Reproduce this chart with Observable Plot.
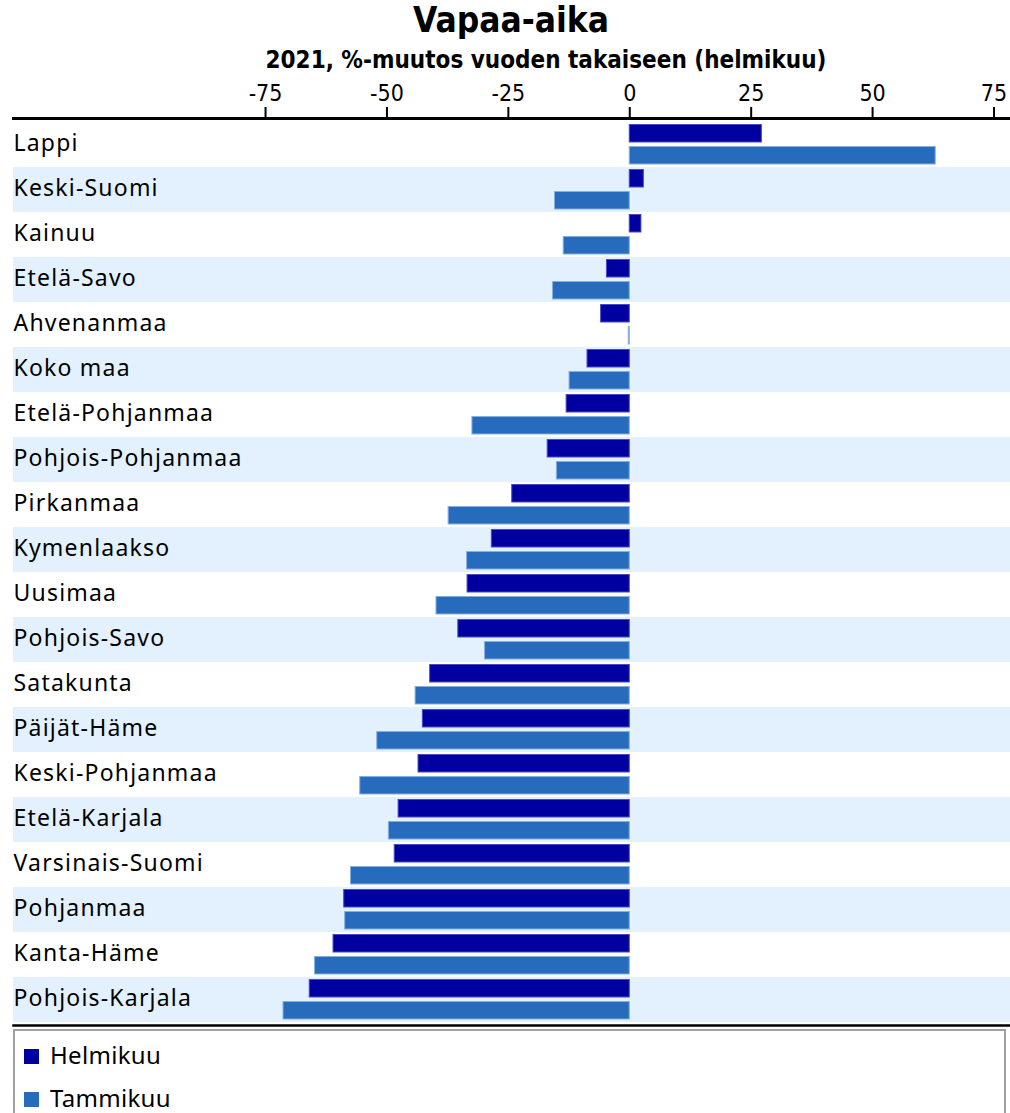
<!DOCTYPE html>
<html>
<head>
<meta charset="utf-8">
<script src="https://cdn.jsdelivr.net/npm/d3@7"></script>
<script src="https://cdn.jsdelivr.net/npm/@observablehq/plot@0.6"></script>
<style>
  html, body { margin: 0; padding: 0; background: #fff; }
  #wrap { width: 1010px; position: relative; }
  .title { height: 44px; line-height: 40px; text-align: center; font-family: "DejaVu Sans Condensed", "DejaVu Sans", sans-serif; font-stretch: condensed; font-weight: bold; font-size: 35px; color: #000; padding-left: 12px; overflow: visible; }
  .subtitle { height: 28px; line-height: 28px; padding-top: 2px; text-align: center; font-family: "DejaVu Sans Condensed", "DejaVu Sans", sans-serif; font-stretch: condensed; font-weight: bold; font-size: 24px; color: #000; padding-left: 82px; }
  #chart svg { display: block; }
  .legend { margin-top: 2px; margin-left: 13px; width: 993px; height: 120px; border: 2px solid #a0a0a0; box-sizing: border-box; padding-top: 2px; font-family: "Noto Sans", sans-serif; font-size: 24px; letter-spacing: 0.3px; color: #000; }
  .item { height: 43px; line-height: 43px; padding-left: 9px; white-space: nowrap; }
  .sw { display: inline-block; width: 15px; height: 15px; vertical-align: 0px; margin-right: 11px; }
</style>
</head>
<body>
<div id="wrap">
  <div class="title">Vapaa-aika</div>
  <div class="subtitle">2021, %-muutos vuoden takaiseen (helmikuu)</div>
  <div id="chart"></div>
  <div class="legend" id="legend"></div>
</div>
<script>
// ---- data ----
const regions = ["Lappi", "Keski-Suomi", "Kainuu", "Etelä-Savo", "Ahvenanmaa", "Koko maa",
  "Etelä-Pohjanmaa", "Pohjois-Pohjanmaa", "Pirkanmaa", "Kymenlaakso", "Uusimaa", "Pohjois-Savo",
  "Satakunta", "Päijät-Häme", "Keski-Pohjanmaa", "Etelä-Karjala", "Varsinais-Suomi", "Pohjanmaa",
  "Kanta-Häme", "Pohjois-Karjala"];
const helmikuu = [27.2, 2.9, 2.4, -4.7, -5.9, -8.7, -13.0, -16.9, -24.2, -28.4, -33.4, -35.3,
  -41.1, -42.6, -43.5, -47.6, -48.4, -58.8, -61.0, -65.9];
const tammikuu = [63.0, -15.4, -13.6, -15.8, -0.2, -12.4, -32.4, -15.0, -37.3, -33.5, -39.8, -29.8,
  -44.1, -52.0, -55.5, -49.6, -57.4, -58.6, -64.8, -71.3];
const seriesNames = ["Helmikuu", "Tammikuu"];
const tickValues = [-75, -50, -25, 0, 25, 50, 75];

// ---- styles ----
const colors = {Helmikuu: "#0000a0", Tammikuu: "#276bbd"};
const strokes = {Helmikuu: "#4a4ac4", Tammikuu: "#86afe0"};
const bandFill = "#e3f0fd";
const xDomain = [-126.9, 78.4];

const rowsH = regions.map((r, i) => ({region: r, value: helmikuu[i]}));
const rowsT = regions.map((r, i) => ({region: r, value: tammikuu[i]}));
const shaded = regions.filter((r, i) => i % 2 === 1);

const condensed = "'DejaVu Sans Condensed', 'DejaVu Sans', sans-serif";

const chart = Plot.plot({
  width: 1010,
  height: 953,
  marginTop: 44,
  marginBottom: 2,
  marginLeft: 13,
  marginRight: 0,
  style: {background: "transparent", fontFamily: "'Noto Sans', sans-serif", color: "#000"},
  x: {domain: xDomain, axis: null, label: null},
  y: {domain: regions, axis: null, padding: 0, label: null},
  marks: [
    Plot.barX(shaded, {x1: () => xDomain[0], x2: () => xDomain[1], y: d => d, fill: bandFill, inset: 0}),
    Plot.barX(rowsH, {x: "value", y: "region", fill: colors.Helmikuu, stroke: strokes.Helmikuu, strokeWidth: 1,
      insetTop: 2.5, insetBottom: 25, insetLeft: 0, insetRight: 0}),
    Plot.barX(rowsT, {x: "value", y: "region", fill: colors.Tammikuu, stroke: strokes.Tammikuu, strokeWidth: 1,
      insetTop: 24.5, insetBottom: 3, insetLeft: 0, insetRight: 0}),
    Plot.text(regions, {y: d => d, text: d => d, frameAnchor: "left", textAnchor: "start", dx: 0, dy: -1,
      fontSize: 23, fill: "#000"}),
    Plot.axisX({anchor: "top", ticks: tickValues, tickSize: 12, tickPadding: 6, strokeWidth: 2, label: null,
      tickFormat: d => String(d).replace("−", "-"), fontSize: 23, fontFamily: condensed, fill: "#000", stroke: "#000"}),
    Plot.frame({anchor: "top", stroke: "#000", strokeWidth: 3}),
    Plot.frame({anchor: "bottom", stroke: "#000", strokeWidth: 2.5})
  ]
});
// widen region labels slightly to match the reference typeface spacing
chart.querySelectorAll("text").forEach(t => {
  if (regions.includes(t.textContent)) {
    t.setAttribute("letter-spacing", "1.2");
    t.style.letterSpacing = "1.2px";
  }
});
document.getElementById("chart").appendChild(chart);

const legend = document.getElementById("legend");
seriesNames.forEach(name => {
  const item = document.createElement("div");
  item.className = "item";
  const sw = document.createElement("span");
  sw.className = "sw";
  sw.style.background = colors[name];
  item.appendChild(sw);
  item.appendChild(document.createTextNode(name));
  legend.appendChild(item);
});
</script>
</body>
</html>
